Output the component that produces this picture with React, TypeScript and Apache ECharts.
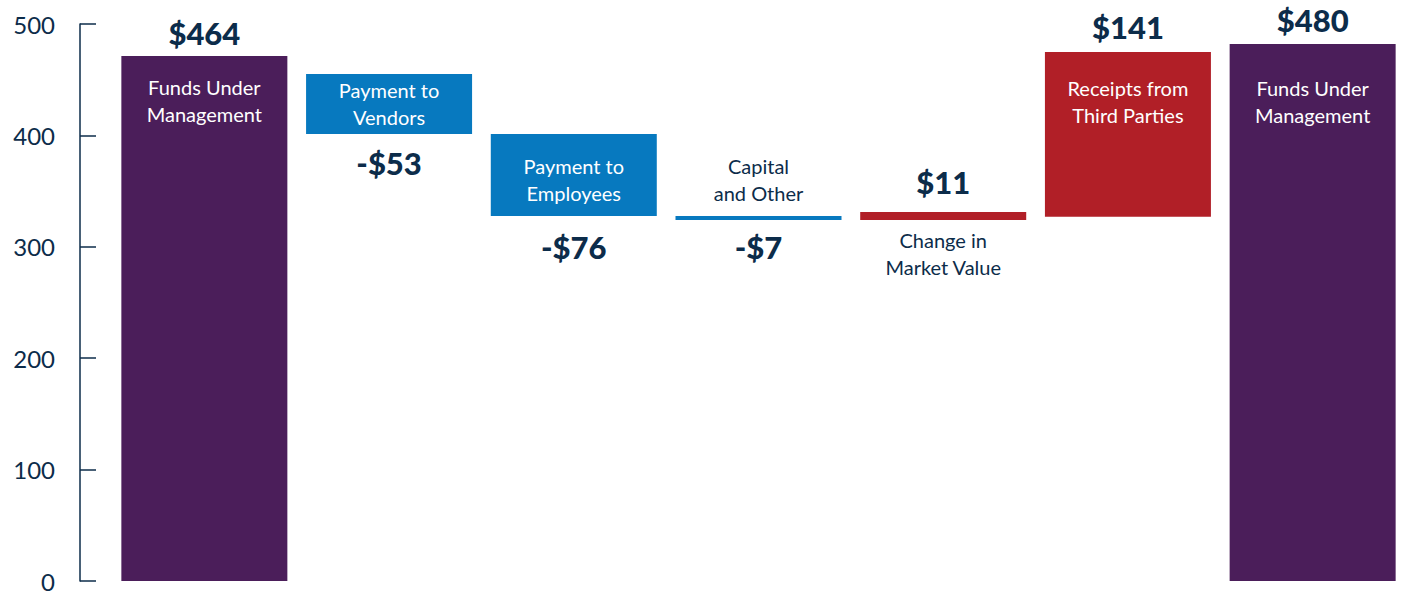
import React, { useEffect, useRef } from 'react';
import * as echarts from 'echarts';

const categories = ['FUM Start', 'Vendors', 'Employees', 'Capital', 'Market', 'Receipts', 'FUM End'];
const nameLabels = [
  'Funds Under\nManagement',
  'Payment to\nVendors',
  'Payment to\nEmployees',
  'Capital\nand Other',
  'Change in\nMarket Value',
  'Receipts from\nThird Parties',
  'Funds Under\nManagement',
];
const valueLabels = ['$464', '-$53', '-$76', '-$7', '$11', '$141', '$480'];
const barBottoms = [0, 401.3, 327.6, 324.1, 324.1, 327.0, 0];
const barTops = [471.3, 455.1, 401.3, 327.6, 331.2, 474.9, 482.0];
const yTicks = [0, 100, 200, 300, 400, 500];

const PURPLE = '#4b1e5a';
const BLUE = '#0779bf';
const RED = '#b11f27';
const NAVY = '#0c2c4a';
const FONT = 'Lato, "Noto Sans", sans-serif';
const barColors = [PURPLE, BLUE, BLUE, BLUE, RED, RED, PURPLE];

// label layout: anchor at bar top or bottom, text placed above or below it
const nameLayout = [
  { anchor: 'top', pos: 'bottom', dist: 17.5, color: '#ffffff' },
  { anchor: 'top', pos: 'bottom', dist: 2.5, color: '#ffffff' },
  { anchor: 'top', pos: 'bottom', dist: 18.5, color: '#ffffff' },
  { anchor: 'top', pos: 'top', dist: 9.5, color: NAVY },
  { anchor: 'bottom', pos: 'bottom', dist: 6.5, color: NAVY },
  { anchor: 'top', pos: 'bottom', dist: 22.5, color: '#ffffff' },
  { anchor: 'top', pos: 'bottom', dist: 30.5, color: '#ffffff' },
];
const valueLayout = [
  { anchor: 'top', pos: 'top', dist: 7.5 },
  { anchor: 'bottom', pos: 'bottom', dist: 13.5 },
  { anchor: 'bottom', pos: 'bottom', dist: 15.5 },
  { anchor: 'bottom', pos: 'bottom', dist: 11.5 },
  { anchor: 'top', pos: 'top', dist: 14.5 },
  { anchor: 'top', pos: 'top', dist: 9.5 },
  { anchor: 'top', pos: 'top', dist: 8.5 },
];

export default function App() {
  const ref = useRef<HTMLDivElement>(null);
  useEffect(() => {
    if (!ref.current) return;
    const chart = echarts.init(ref.current, undefined, { renderer: 'svg' });
    const anchorVal = (i: number, a: string) => (a === 'top' ? barTops[i] : barBottoms[i]);
    chart.setOption({
      animation: false,
      backgroundColor: '#ffffff',
      grid: { left: 112, right: 0, top: 24, bottom: 14 },
      xAxis: {
        type: 'category',
        data: categories,
        axisLine: { show: false },
        axisTick: { show: false },
        axisLabel: { show: false },
        splitLine: { show: false },
      },
      yAxis: {
        type: 'value',
        min: yTicks[0],
        max: yTicks[yTicks.length - 1],
        interval: 100,
        offset: 32,
        splitLine: { show: false },
        axisLine: { show: true, lineStyle: { color: NAVY, width: 1.5 } },
        axisTick: { show: true, inside: true, length: 16, lineStyle: { color: NAVY, width: 1.5 } },
        axisLabel: { margin: 25, color: NAVY, fontSize: 24, fontFamily: FONT },
      },
      series: [
        {
          type: 'bar',
          stack: 'w',
          barWidth: 166,
          silent: true,
          itemStyle: { color: 'transparent' },
          data: barBottoms,
        },
        {
          type: 'bar',
          stack: 'w',
          barWidth: 166,
          data: barTops.map((t, i) => ({
            value: t - barBottoms[i],
            itemStyle: { color: barColors[i] },
          })),
        },
        {
          type: 'scatter',
          symbolSize: 0,
          z: 10,
          itemStyle: { color: 'transparent', opacity: 1 },
          data: nameLabels.map((n, i) => ({
            value: [i, anchorVal(i, nameLayout[i].anchor)],
            label: {
              show: true,
              formatter: n,
              position: nameLayout[i].pos,
              distance: nameLayout[i].dist,
              color: nameLayout[i].color,
              opacity: 1,
              fontSize: 20,
              lineHeight: 27,
              fontFamily: FONT,
              align: 'center',
            },
          })),
        },
        {
          type: 'scatter',
          symbolSize: 0,
          z: 10,
          itemStyle: { color: 'transparent', opacity: 1 },
          data: valueLabels.map((v, i) => ({
            value: [i, anchorVal(i, valueLayout[i].anchor)],
            label: {
              show: true,
              formatter: v,
              position: valueLayout[i].pos,
              distance: valueLayout[i].dist,
              color: NAVY,
              opacity: 1,
              fontSize: 31,
              lineHeight: 31,
              fontWeight: 900,
              fontFamily: FONT,
            },
          })),
        },
      ],
    });
    return () => chart.dispose();
  }, []);
  return (
    <div
      ref={ref}
      style={{ position: 'fixed', left: 0, top: 0, width: 1405, height: 595 }}
    />
  );
}
